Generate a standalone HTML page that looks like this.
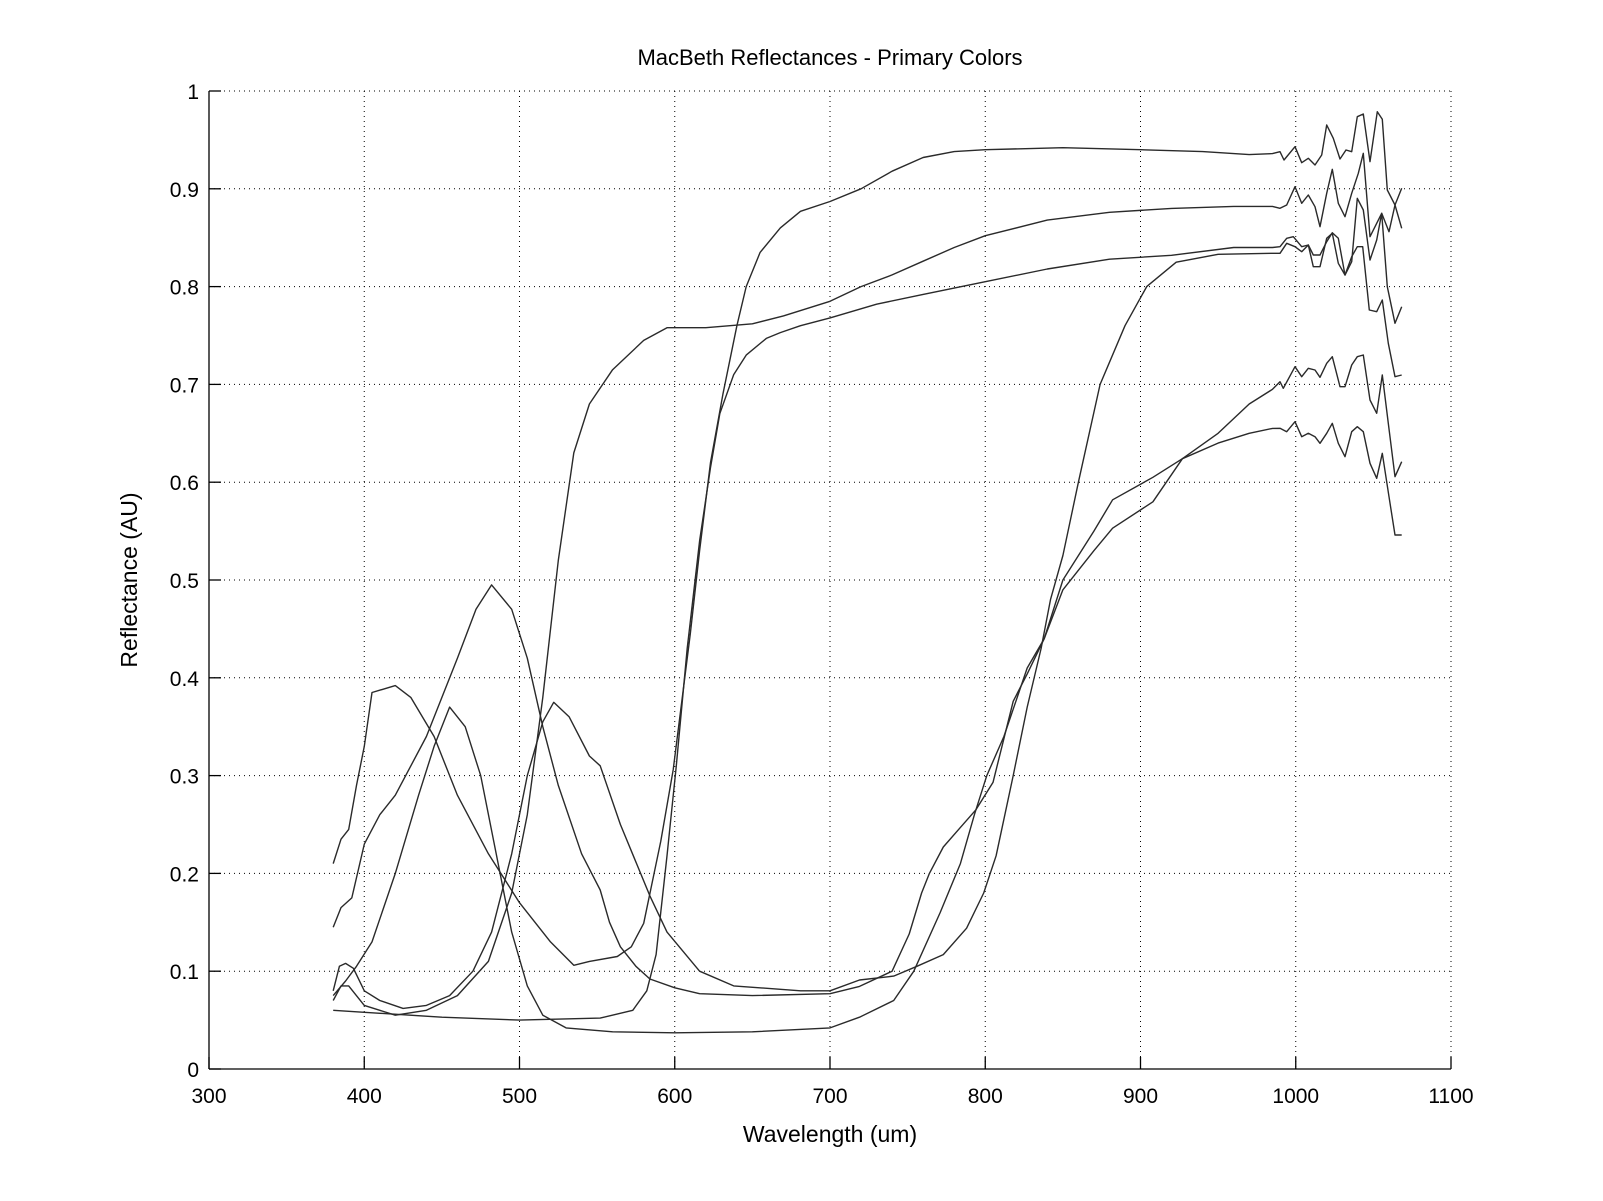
<!DOCTYPE html>
<html><head><meta charset="utf-8"><style>
html,body{margin:0;padding:0;background:#fff;}
svg{display:block;font-family:"Liberation Sans",sans-serif;}
</style></head><body>
<svg id="s" width="1603" height="1201" viewBox="0 0 1603 1201" xmlns="http://www.w3.org/2000/svg">
<rect width="1603" height="1201" fill="#fff"/>
<g id="grid" stroke="#000" stroke-width="1" stroke-dasharray="1,4"></g>
<g id="axes" stroke="#000" stroke-width="1.3"></g>
<g id="labels" font-size="21" fill="#000"></g>
<g id="curves" fill="none" stroke="#2a2a2a" stroke-width="1.4" stroke-linejoin="round"></g>
<text x="830" y="65" font-size="22" text-anchor="middle">MacBeth Reflectances - Primary Colors</text>
<text x="830" y="1142" font-size="23" text-anchor="middle">Wavelength (um)</text>
<text transform="translate(137,580) rotate(-90)" font-size="23" text-anchor="middle">Reflectance (AU)</text>
</svg>
<script>
const NS="http://www.w3.org/2000/svg";
const X0=209,X1=1451,Y0=1069,Y1=91;
const px=w=>X0+(w-300)*(X1-X0)/800, py=v=>Y0-v*(Y0-Y1);
function el(p,t,a,txt){const e=document.createElementNS(NS,t);for(const k in a)e.setAttribute(k,a[k]);if(txt!==undefined)e.textContent=txt;p.appendChild(e);return e;}
const g=document.getElementById('grid'),ax=document.getElementById('axes'),lb=document.getElementById('labels'),cv=document.getElementById('curves');
for(let w=400;w<=1100;w+=100){el(g,'line',{x1:px(w),x2:px(w),y1:Y1,y2:Y0});}
for(let v=1;v<=10;v++){el(g,'line',{x1:X0,x2:X1,y1:py(v/10),y2:py(v/10)});}
el(ax,'line',{x1:X0,x2:X1,y1:Y0,y2:Y0});el(ax,'line',{x1:X0,x2:X0,y1:Y0,y2:Y1});
for(let w=300;w<=1100;w+=100){el(ax,'line',{x1:px(w),x2:px(w),y1:Y0,y2:Y0-12});el(lb,'text',{x:px(w),y:1103,'text-anchor':'middle'},String(w));}
for(let i=0;i<=10;i++){const v=i/10;el(ax,'line',{x1:X0,x2:X0+12,y1:py(v),y2:py(v)});el(lb,'text',{x:199,y:py(v)+8,'text-anchor':'end'},i==0?'0':i==10?'1':v.toFixed(1));}
const C={
F:[[380,.06],[400,.058],[450,.053],[500,.05],[552,.052],[573,.06],[582,.08],[588,.117],[595,.218],[601,.31],[608,.43],[616,.54],[623,.615],[629,.67],[638,.71],[646,.73],[659,.747],[668,.753],[681,.76],[700,.768],[730,.782],[760,.792],[800,.805],[840,.818],[880,.828],[920,.832],[960,.84],[985,.84]],
E:[[380,.07],[385,.085],[390,.085],[400,.065],[420,.055],[440,.06],[460,.075],[480,.11],[495,.18],[505,.26],[515,.38],[525,.52],[535,.63],[545,.68],[560,.715],[580,.745],[595,.758],[620,.758],[650,.762],[670,.77],[700,.785],[720,.8],[740,.812],[760,.826],[780,.84],[800,.852],[840,.868],[880,.876],[920,.88],[960,.882],[985,.882]],
A:[[380,.21],[385,.235],[390,.245],[395,.29],[400,.33],[405,.385],[420,.392],[430,.38],[445,.34],[460,.28],[480,.22],[500,.17],[520,.13],[535,.106],[545,.11],[563,.115],[572,.125],[580,.149],[591,.233],[599,.306],[610,.445],[616,.53],[623,.62],[631,.69],[640,.76],[646,.8],[655,.835],[668,.86],[681,.877],[700,.887],[720,.9],[740,.918],[760,.932],[780,.938],[800,.94],[850,.942],[900,.94],[940,.938],[970,.935],[985,.936]],
B:[[380,.145],[385,.165],[392,.175],[400,.23],[410,.26],[420,.28],[440,.34],[460,.42],[472,.47],[482,.495],[495,.47],[505,.42],[515,.35],[525,.29],[540,.22],[552,.183],[558,.15],[565,.125],[575,.105],[584,.092],[600,.083],[616,.077],[650,.075],[700,.077],[719,.0845],[740,.1],[751,.138],[759,.18],[764,.2],[773,.227],[784,.247],[794,.265],[805,.293],[818,.376],[827,.404],[838,.44],[850,.5],[870,.55],[882,.582],[908,.605],[927,.624],[950,.64],[970,.65],[985,.655]],
C:[[380,.075],[388,.09],[395,.105],[405,.13],[420,.2],[435,.28],[445,.33],[455,.37],[465,.35],[475,.3],[485,.22],[495,.14],[505,.085],[515,.055],[530,.042],[560,.038],[600,.037],[650,.038],[700,.042],[719,.053],[741,.07],[754,.1],[771,.16],[784,.21],[793,.26],[801,.3],[812,.34],[827,.41],[838,.44],[850,.49],[870,.53],[882,.553],[908,.58],[927,.624],[950,.65],[970,.68],[985,.695]],
D:[[380,.08],[384,.105],[388,.108],[393,.103],[400,.08],[410,.07],[425,.062],[440,.065],[455,.075],[470,.1],[482,.14],[495,.22],[505,.3],[515,.355],[522,.375],[532,.36],[545,.32],[552,.31],[565,.25],[584,.177],[595,.14],[616,.1],[638,.085],[681,.08],[700,.08],[719,.091],[741,.095],[756,.105],[773,.117],[788,.144],[799,.18],[807,.218],[818,.3],[827,.37],[836,.43],[842,.48],[850,.525],[860,.6],[874,.7],[890,.76],[904,.8],[923,.825],[950,.833],[985,.834]]
};
const T={
A:[[0,185],[12,210],[45,170],[65,218],[85,205],[105,225],[125,195],[140,105],[160,145],[180,207],[198,180],[215,185],[232,80],[250,72],[270,215],[292,65],[307,88],[322,300],[345,345],[365,415]],
E:[[0,355],[20,345],[45,290],[65,340],[85,315],[105,350],[120,410],[140,310],[157,238],[175,340],[195,380],[215,310],[235,250],[250,190],[270,440],[290,400],[305,370],[327,425],[345,345],[365,295]],
F:[[0,470],[20,445],[40,440],[65,470],[85,465],[100,495],[120,495],[140,455],[157,428],[175,445],[195,555],[215,515],[232,325],[250,360],[270,510],[290,450],[305,370],[322,590],[345,700],[365,650]],
D:[[0,490],[20,460],[45,470],[65,485],[85,465],[100,530],[120,530],[140,445],[157,430],[175,520],[195,555],[215,500],[232,470],[248,470],[268,660],[290,665],[307,630],[325,760],[345,860],[365,855]],
C:[[0,875],[10,895],[45,830],[65,860],[85,835],[105,840],[120,862],[140,820],[157,800],[180,890],[195,890],[215,825],[232,800],[250,795],[270,930],[290,970],[307,855],[325,1000],[345,1160],[365,1115]],
B:[[0,1015],[20,1025],[45,995],[65,1040],[85,1030],[105,1040],[120,1060],[140,1030],[157,1000],[175,1060],[195,1100],[215,1025],[232,1010],[250,1025],[270,1120],[290,1165],[307,1090],[327,1220],[345,1335],[365,1335]]
};
for(const k in C){
  let pts=C[k].map(([w,v])=>[px(w),py(v)]);
  T[k].forEach(([a,b])=>pts.push([1280+a/3,90+b/3]));
  el(cv,'polyline',{points:pts.map(p=>p[0].toFixed(1)+','+p[1].toFixed(1)).join(' ')});
}
</script>
</body></html>
